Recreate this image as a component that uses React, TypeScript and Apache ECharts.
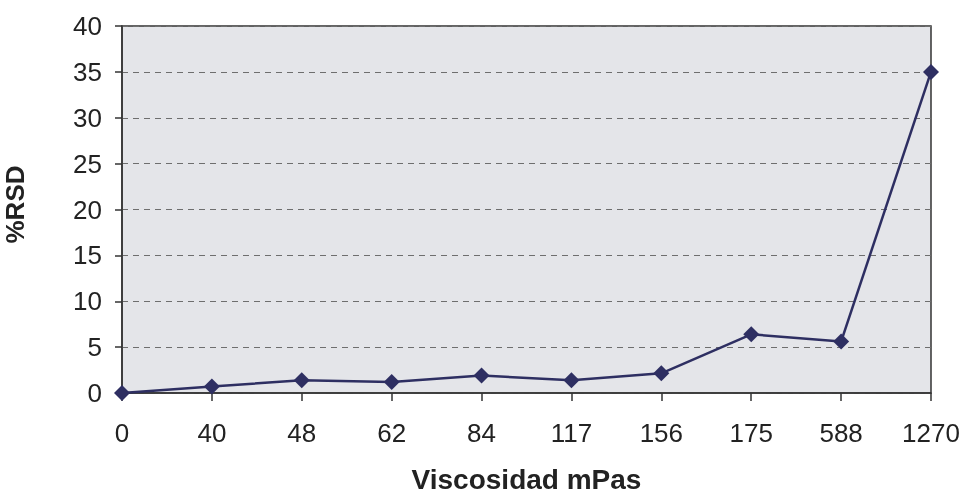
import React, { useEffect, useRef } from "react";
import * as echarts from "echarts";

const categories = ["0", "40", "48", "62", "84", "117", "156", "175", "588", "1270"];
const rsdValues = [0, 0.7, 1.4, 1.2, 1.9, 1.4, 2.15, 6.4, 5.6, 35];
const yTicks = { min: 0, max: 40, interval: 5 };

export default function App() {
  const ref = useRef<HTMLDivElement>(null);
  useEffect(() => {
    if (!ref.current) return;
    const chart = echarts.init(ref.current, undefined, { renderer: "svg" });
    chart.setOption({
      animation: false,
      textStyle: { fontFamily: "Liberation Sans, Arial, sans-serif" },
      grid: {
        left: 122,
        right: 35,
        top: 26,
        bottom: 101,
        outerBoundsMode: "none",
        containLabel: false,
        show: true,
        backgroundColor: "#e4e5e9",
        borderColor: "#333333",
        borderWidth: 1.5,
      },
      xAxis: {
        type: "category",
        data: categories,
        boundaryGap: false,
        name: "Viscosidad mPas",
        nameLocation: "middle",
        nameGap: 86,
        nameTextStyle: { fontSize: 28, lineHeight: 22, fontWeight: "bold", color: "#222", verticalAlign: "middle" },
        axisLine: { lineStyle: { color: "#333", width: 1.5 } },
        axisTick: { show: true, alignWithLabel: true, length: 8, lineStyle: { color: "#333", width: 1.5 } },
        axisLabel: { fontSize: 26, color: "#222", margin: 27, interval: 0 },
        splitLine: { show: false },
      },
      yAxis: {
        type: "value",
        min: yTicks.min,
        max: yTicks.max,
        interval: yTicks.interval,
        name: "%RSD",
        nameLocation: "middle",
        nameGap: 97,
        nameTextStyle: { fontSize: 26, lineHeight: 20, fontWeight: "bold", color: "#222", padding: [0, 0, 0, 10] },
        axisLine: { show: true, lineStyle: { color: "#333", width: 1.5 } },
        axisTick: { show: true, length: 7, lineStyle: { color: "#333", width: 1.5 } },
        axisLabel: { fontSize: 26, color: "#222", margin: 20 },
        splitLine: { show: true, lineStyle: { color: "#6e6e6e", type: [6, 5], width: 1 } },
      },
      series: [
        {
          type: "line",
          data: rsdValues,
          symbol: "diamond",
          symbolSize: 16,
          lineStyle: { color: "#2e2f62", width: 2.5 },
          itemStyle: { color: "#2e2f62" },
          clip: false,
        },
      ],
    });
    return () => chart.dispose();
  }, []);
  return <div ref={ref} style={{ position: "fixed", left: 0, top: 0, width: 966, height: 494 }} />;
}
